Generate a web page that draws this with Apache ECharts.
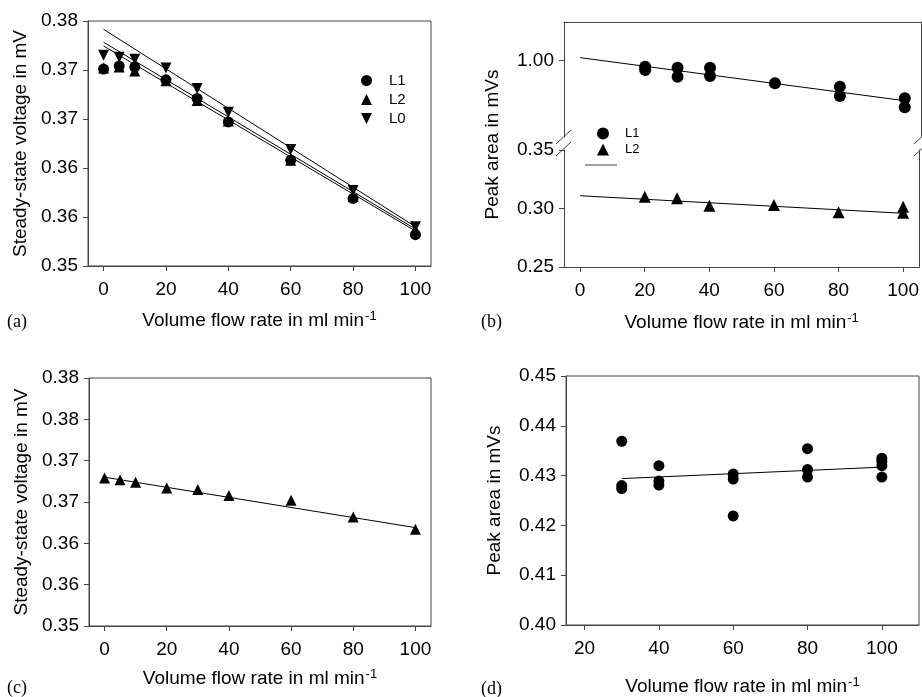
<!DOCTYPE html>
<html>
<head>
<meta charset="utf-8">
<script src="https://cdn.jsdelivr.net/npm/echarts@6/dist/echarts.min.js"></script>
<style>
html, body { margin: 0; padding: 0; background: #fff; }
#main { width: 922px; height: 697px; }
</style>
</head>
<body>
<div id="main"></div>
<script>
// (a) steady-state voltage vs flow rate
var flowA = [0, 5, 10, 20, 30, 40, 60, 80, 100];
var voltL1 = [0.3701, 0.3704, 0.3703, 0.3690, 0.3671, 0.3647, 0.3608, 0.3569, 0.3532];
var voltL2 = [0.3702, 0.3703, 0.3699, 0.3689, 0.3669, 0.3648, 0.3608, 0.3571, 0.3537];
var voltL0 = [0.3715, 0.3713, 0.3711, 0.3702, 0.3681, 0.3657, 0.3619, 0.3577, 0.3540];
var fitX = [0, 100];
var fitL1 = [0.37245, 0.35357];
var fitL2 = [0.37283, 0.35378];
var fitL0 = [0.37415, 0.35401];
var voltTicksA = ['0.35', '0.36', '0.36', '0.37', '0.37', '0.38'];

// (b) peak area, broken y axis
var flowB1 = [20, 20, 30, 30, 40, 40, 60, 80, 80, 100, 100];
var areaB1 = [0.9949, 0.9921, 0.9940, 0.9863, 0.9940, 0.9869, 0.9807, 0.9778, 0.9698, 0.9679, 0.9602];
var flowB2 = [20, 30, 40, 60, 80, 100, 100];
var areaB2 = [0.3101, 0.3087, 0.3024, 0.3030, 0.2968, 0.3015, 0.2964];
var fitB1 = [1.0026, 0.9658];
var fitB2 = [0.3109, 0.2959];

// (c) steady-state voltage, L2 only
var flowC = [0, 5, 10, 20, 30, 40, 60, 80, 100];
var voltC = [0.3679, 0.3677, 0.3674, 0.3667, 0.3665, 0.3658, 0.3652, 0.3632, 0.3617];
var fitC = [0.3680, 0.3619];
var voltTicksC = ['0.35', '0.36', '0.36', '0.37', '0.37', '0.38', '0.38'];

// (d) peak area, L1
var flowD = [30, 30, 30, 40, 40, 40, 60, 60, 60, 80, 80, 80, 100, 100, 100, 100];
var areaD = [0.4369, 0.4280, 0.4274, 0.4320, 0.4289, 0.4281, 0.4303, 0.4293, 0.4219,
    0.4354, 0.4312, 0.4297, 0.4335, 0.4329, 0.4320, 0.4297];
var fitXD = [30, 100];
var fitD = [0.4294, 0.4317];

var xTicks = [0, 20, 40, 60, 80, 100];
var xTicksD = [20, 40, 60, 80, 100];

function pairs(xs, ys) {
    return xs.map(function (x, i) { return [x, ys[i]]; });
}

var FONT = 'Liberation Sans';
var AXC = '#444';
var xName = '{t|Volume flow rate in ml min}{s|-1}';
var xNameStyle = {
    color: '#000', fontFamily: FONT, fontSize: 19,
    rich: {
        t: {fontSize: 19, fontFamily: FONT, color: '#000'},
        s: {fontSize: 13, fontFamily: FONT, color: '#000', verticalAlign: 'top', padding: [0, 0, 8, 1]}
    }
};
var yNameStyle = {color: '#000', fontFamily: FONT, fontSize: 19};
var labelStyle = {color: '#000', fontFamily: FONT, fontSize: 19};

function xAxisOf(grid, min, max, ticks, gap) {
    return {
        type: 'value', gridIndex: grid, min: min, max: max,
        splitLine: {show: false},
        axisLine: {show: true, onZero: false, lineStyle: {color: AXC, width: 1}},
        axisTick: {show: true, length: 5, customValues: ticks, lineStyle: {color: AXC}},
        axisLabel: Object.assign({margin: 14, customValues: ticks}, labelStyle),
        name: xName, nameLocation: 'middle', nameGap: gap, nameTextStyle: xNameStyle
    };
}

function yAxisOf(grid, opt) {
    return Object.assign({
        type: 'value', gridIndex: grid,
        splitLine: {show: false},
        axisLine: {show: true, onZero: false, lineStyle: {color: AXC, width: 1}},
        axisTick: {show: true, length: 5, lineStyle: {color: AXC}},
        nameLocation: 'middle', nameTextStyle: yNameStyle
    }, opt);
}

function borderAxis(grid, pos, min, max) {
    return {
        type: 'value', gridIndex: grid, position: pos, min: min, max: max,
        splitLine: {show: false},
        axisLine: {show: true, onZero: false, lineStyle: {color: AXC, width: 1}},
        axisTick: {show: false}, axisLabel: {show: false}
    };
}

function scatter(name, x, y, xi, yi, symbol, rot, size) {
    return {
        name: name, type: 'scatter', xAxisIndex: xi, yAxisIndex: yi,
        symbol: symbol, symbolRotate: rot, symbolSize: size,
        itemStyle: {color: '#000', opacity: 1},
        data: pairs(x, y), z: 3
    };
}

function fit(name, x, y, xi, yi) {
    return {
        name: name, type: 'line', xAxisIndex: xi, yAxisIndex: yi,
        symbol: 'none', silent: true,
        lineStyle: {color: '#000', width: 1},
        data: pairs(x, y), z: 2
    };
}

var chart = echarts.init(document.getElementById('main'));

var option = {
    backgroundColor: '#fff',
    animation: false,
    grid: [
        {left: 88, top: 21, width: 343, height: 245, show: true, borderColor: AXC, borderWidth: 1},   // a
        {left: 564, top: 22, width: 357, height: 115},                                              // b upper
        {left: 564, top: 150, width: 357, height: 117},                                             // b lower
        {left: 89, top: 378, width: 342, height: 248, show: true, borderColor: AXC, borderWidth: 1},  // c
        {left: 566, top: 376, width: 353, height: 251, show: true, borderColor: AXC, borderWidth: 1}, // d
        {left: 564, top: 22, width: 357, height: 245}                                               // b full (name only)
    ],
    xAxis: [
        xAxisOf(0, -5, 105, xTicks, 44),
        {type: 'value', gridIndex: 1, min: -5, max: 105, show: false},
        borderAxis(1, 'top', -5, 105),
        xAxisOf(2, -5, 105, xTicks, 45),
        xAxisOf(3, -5, 105, xTicks, 42),
        xAxisOf(4, 15, 110, xTicksD, 51),
        {type: 'value', gridIndex: 5, min: 0, max: 1, show: false}
    ],
    yAxis: [
        yAxisOf(0, {
            min: 0.350, max: 0.375, interval: 0.005,
            axisLabel: Object.assign({margin: 10, formatter: function (v) {
                return voltTicksA[Math.round((v - 0.350) / 0.005)];
            }}, labelStyle),
            name: 'Steady-state voltage in mV', nameGap: 58
        }),
        yAxisOf(1, {
            min: 0.9348, max: 1.0331,
            axisTick: {show: true, length: 5, customValues: [1.0], lineStyle: {color: AXC}},
            axisLabel: Object.assign({margin: 10, customValues: [1.0], formatter: function (v) {
                return v.toFixed(2);
            }}, labelStyle)
        }),
        borderAxis(1, 'right', 0.9348, 1.0331),
        yAxisOf(2, {
            min: 0.25, max: 0.35, interval: 0.05,
            axisLabel: Object.assign({margin: 10, formatter: function (v) {
                return v.toFixed(2);
            }}, labelStyle)
        }),
        borderAxis(2, 'right', 0.25, 0.35),
        yAxisOf(3, {
            min: 0.350, max: 0.380, interval: 0.005,
            axisLabel: Object.assign({margin: 10, formatter: function (v) {
                return voltTicksC[Math.round((v - 0.350) / 0.005)];
            }}, labelStyle),
            name: 'Steady-state voltage in mV', nameGap: 58
        }),
        yAxisOf(4, {
            min: 0.40, max: 0.45, interval: 0.01,
            axisLabel: Object.assign({margin: 10, formatter: function (v) {
                return v.toFixed(2);
            }}, labelStyle),
            name: 'Peak area in mVs', nameGap: 62
        }),
        {
            type: 'value', gridIndex: 5, min: 0, max: 1,
            axisLine: {show: false}, axisTick: {show: false}, axisLabel: {show: false},
            splitLine: {show: false},
            name: 'Peak area in mVs', nameLocation: 'middle', nameGap: 62, nameTextStyle: yNameStyle
        }
    ],
    legend: [
        {
            left: 356, top: 68, orient: 'vertical', selectedMode: false,
            itemWidth: 11, itemHeight: 11, itemGap: 4,
            data: ['L1', 'L2', {name: 'L0', icon: 'path://M0,0 L10,0 L5,10 Z'}],
            textStyle: {color: '#000', fontFamily: FONT, fontSize: 15, padding: [0, 0, 0, 12]}
        },
        {
            left: 592, top: 122, orient: 'vertical', selectedMode: false,
            itemWidth: 12, itemHeight: 12, itemGap: 3,
            data: ['b-L1', 'b-L2'],
            formatter: function (n) { return n.replace('b-', ''); },
            textStyle: {color: '#000', fontFamily: FONT, fontSize: 13, padding: [0, 0, 0, 11]}
        }
    ],
    graphic: [
        // axis break marks of panel (b)
        {type: 'line', shape: {x1: 556, y1: 144, x2: 571, y2: 130}, style: {stroke: AXC, lineWidth: 1}},
        {type: 'line', shape: {x1: 556, y1: 156, x2: 571, y2: 142}, style: {stroke: AXC, lineWidth: 1}},
        {type: 'line', shape: {x1: 914, y1: 144, x2: 929, y2: 130}, style: {stroke: AXC, lineWidth: 1}},
        {type: 'line', shape: {x1: 914, y1: 156, x2: 929, y2: 142}, style: {stroke: AXC, lineWidth: 1}},
        // regression line key in (b)
        {type: 'line', shape: {x1: 585, y1: 165, x2: 617, y2: 165}, style: {stroke: AXC, lineWidth: 1}},
        {type: 'text', left: 7, top: 313, style: {text: '(a)', font: '18px "Liberation Serif"', fill: '#000'}},
        {type: 'text', left: 481, top: 313, style: {text: '(b)', font: '18px "Liberation Serif"', fill: '#000'}},
        {type: 'text', left: 7, top: 679, style: {text: '(c)', font: '18px "Liberation Serif"', fill: '#000'}},
        {type: 'text', left: 481, top: 680, style: {text: '(d)', font: '18px "Liberation Serif"', fill: '#000'}}
    ],
    series: [
        fit('fit L1', fitX, fitL1, 0, 0),
        fit('fit L2', fitX, fitL2, 0, 0),
        fit('fit L0', fitX, fitL0, 0, 0),
        scatter('L1', flowA, voltL1, 0, 0, 'circle', 0, 11),
        scatter('L2', flowA, voltL2, 0, 0, 'triangle', 0, 11),
        scatter('L0', flowA, voltL0, 0, 0, 'triangle', 180, 11),

        fit('fit b1', fitX, fitB1, 1, 1),
        scatter('b-L1', flowB1, areaB1, 1, 1, 'circle', 0, 12),
        fit('fit b2', fitX, fitB2, 3, 3),
        scatter('b-L2', flowB2, areaB2, 3, 3, 'triangle', 0, 12),

        fit('fit c', fitX, fitC, 4, 5),
        scatter('c-L2', flowC, voltC, 4, 5, 'triangle', 0, 11),

        fit('fit d', fitXD, fitD, 5, 6),
        scatter('d-L1', flowD, areaD, 5, 6, 'circle', 0, 11)
    ]
};

chart.setOption(option);
</script>
</body>
</html>
